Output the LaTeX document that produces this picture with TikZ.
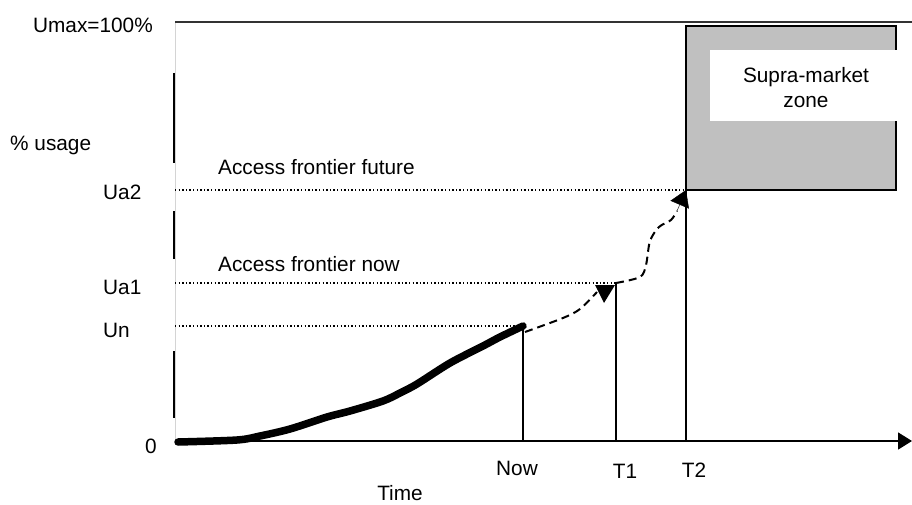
\documentclass[tikz,border=0pt]{standalone}
\usepackage{fontspec}
\setmainfont{Liberation Sans}
\usetikzlibrary{positioning,arrows.meta,calc}
\definecolor{zoneGray}{RGB}{192,192,192}
\definecolor{axisGray}{RGB}{212,212,212}

\begin{document}
\begin{tikzpicture}[x=1pt,y=-1pt,font=\fontsize{20.8}{25}\selectfont,
  lbl/.style={inner sep=0pt},
  level/.style={line width=1.2pt, dash pattern=on 1.4pt off 2.2pt},
  stem/.style={line width=1.6pt},
  forecast/.style={line width=2pt, dash pattern=on 8pt off 5pt}]
  \useasboundingbox (0,0) rectangle (912,505);

  % Axes
  \coordinate (O) at (175,441);
  \coordinate (Xend) at (912,441);
  \coordinate (Ytop) at (175,22);
  \coordinate (Rtop) at (912,22);
  \draw[axisGray, line width=0.8pt] (O) -- (Ytop);
  \foreach \ya/\yb in {73/163,211/259,351/418} {
    \draw[line width=2.6pt] (174,\ya) -- (174,\yb);
  }
  \draw[line width=2pt, black!80] (Ytop) -- (Rtop);
  \draw[line width=1.6pt, -{Triangle[length=14pt,width=17pt]}] (O) -- (Xend);

  % Supra-market zone
  \draw[fill=zoneGray, line width=1.5pt] (686,26) rectangle (896,190);
  \fill[white] (710,50) rectangle (897,121);
  \node[lbl, align=center, anchor=north] (zone) at (806,67) {Supra-market\\zone};

  % Levels and times
  \coordinate (pNow) at (523,326);
  \coordinate (pT1) at (616,283);
  \coordinate (pT2) at (686,190);
  \foreach \pt in {pNow,pT1,pT2} {
    \draw[level] (Ytop |- \pt) -- (\pt);
    \draw[stem] (\pt) -- (\pt |- O);
  }

  % Usage so far
  \draw[line width=7.5pt, line cap=round, line join=round]
    plot[smooth, tension=0.5] coordinates {(178,442) (237,440) (260,436) (290,429)
      (327,417) (350,411) (383,401) (400,393) (417,384) (450,363) (483,346)
      (500,337) (pNow)};

  % Forecast
  \draw[forecast] plot[smooth, tension=0.5] coordinates {(525,332) (563,318)
    (580,309) (597,292)};
  \fill (595,285) -- (615,285) -- (604,303) -- cycle;
  \draw[forecast] plot[smooth, tension=0.5] coordinates {(pT1) (640,277)
    (646,265) (650,241) (659,227) (671,220) (677,211)};
  \draw[-{Triangle[length=16pt,width=20pt]}] (677,211) -- (pT2);

  % Labels
  \node[lbl, anchor=base east] (umax) at (153,33) {Umax=100\%};
  \node[lbl, anchor=base west] (usage) at (10,151) {\% usage};
  \node[lbl, anchor=base west] (ua2) at (103,199) {Ua2};
  \node[lbl, anchor=base west] (ua1) at (103,294) {Ua1};
  \node[lbl, anchor=base west] (un) at (103,337) {Un};
  \node[lbl, anchor=base east] (zero) at (157,453) {0};
  \node[lbl, anchor=base west] (future) at (218,175) {Access frontier future};
  \node[lbl, anchor=base west] (nowlbl) at (218,271) {Access frontier now};
  \node[lbl, anchor=base] (tnow) at (517,475) {Now};
  \node[lbl, anchor=base] (tone) at (625,478) {T1};
  \node[lbl, anchor=base] (ttwo) at (694,477) {T2};
  \node[lbl, anchor=base] (time) at (400,500) {Time};
\end{tikzpicture}
\end{document}
